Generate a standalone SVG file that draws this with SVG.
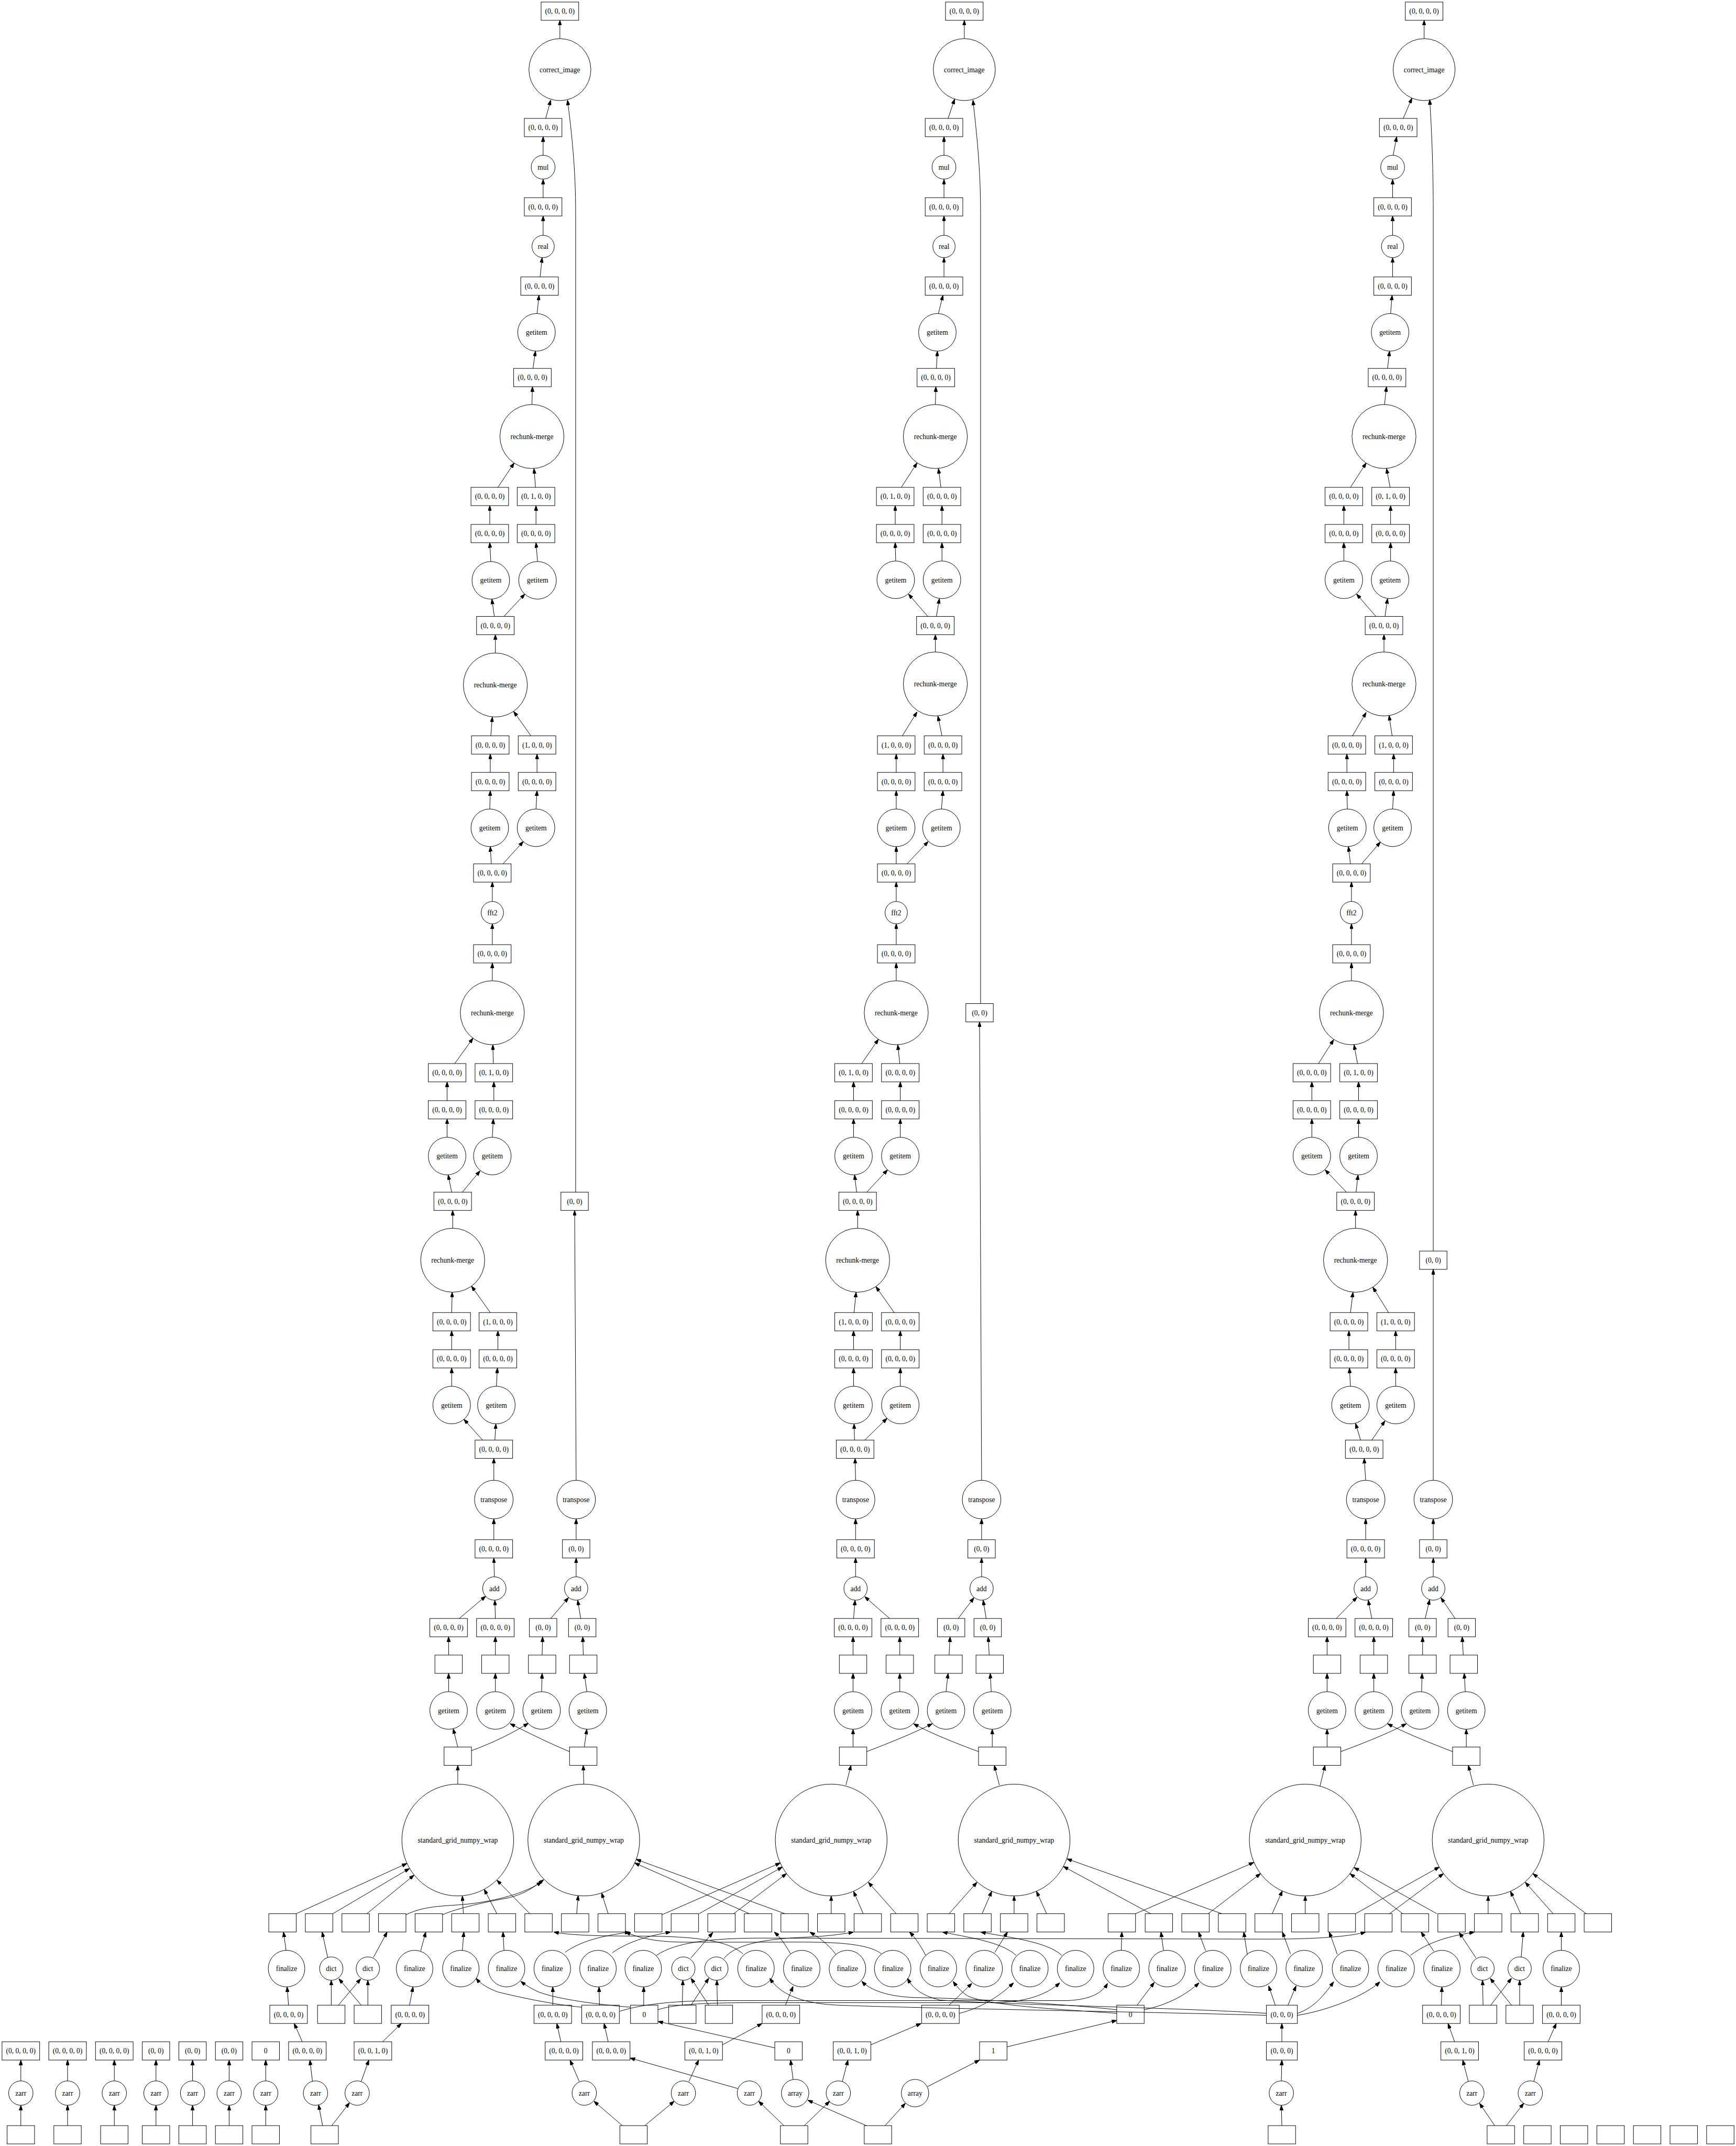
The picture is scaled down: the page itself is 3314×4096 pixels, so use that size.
<svg xmlns="http://www.w3.org/2000/svg" width="3314" height="4096" viewBox="0 0 3314 4096">
<style>
.n rect,.n circle{fill:none;stroke:#000;stroke-width:1}
text{font-family:"Liberation Serif","Times New Roman",serif;font-size:14px;text-anchor:middle;fill:#000}
#edges path{fill:none;stroke:#000;stroke-width:1;marker-end:url(#a)}
</style>
<defs><marker id="a" markerWidth="10" markerHeight="7" refX="10" refY="3.5" orient="auto" markerUnits="userSpaceOnUse"><path d="M0,0 L10,3.5 L0,7 z" fill="#000" stroke="#000"/></marker></defs>
<rect width="3314" height="4096" fill="#fff"/>
<g transform="scale(0.9699)">
<g id="edges">
<!-- column 1 -->
<path d="M901,3438 L892,3402"/><path d="M928,3445 C970,3430 1010,3410 1040,3391"/><path d="M1121,3447 C1080,3430 1040,3410 1004,3392"/><path d="M1150,3438 L1155,3403"/>
<path d="M883,3329 L883,3293"/><path d="M975,3329 L975,3293"/><path d="M1066,3329 L1067,3293"/><path d="M1155,3329 L1150,3293"/>
<path d="M883,3257 L883,3221"/><path d="M975,3257 L975,3221"/><path d="M1067,3257 L1068,3221"/><path d="M1148,3257 L1147,3221"/>
<path d="M904,3185 L956,3141"/><path d="M975,3185 L974,3149"/><path d="M1084,3185 L1119,3144"/><path d="M1143,3185 L1137,3149"/>
<path d="M973,3103 L972,3066"/><path d="M972,3030 L972,2989"/><path d="M972,2913 L972,2870"/>
<path d="M950,2834 L913,2793"/><path d="M974,2834 L976,2802"/>
<path d="M889,2728 L889,2692"/><path d="M977,2728 L979,2692"/><path d="M889,2656 L889,2619"/><path d="M980,2656 L980,2619"/>
<path d="M889,2583 L890,2543"/><path d="M965,2583 L928,2531"/><path d="M891,2417 L891,2382"/>
<path d="M889,2346 L882,2312"/><path d="M910,2346 L945,2304"/>
<path d="M880,2238 L880,2202"/><path d="M969,2238 L971,2202"/><path d="M880,2166 L880,2129"/><path d="M972,2166 L972,2129"/>
<path d="M895,2093 L931,2043"/><path d="M971,2093 L970,2056"/>
<path d="M969,1930 L969,1895"/><path d="M969,1859 L969,1818"/><path d="M969,1774 L969,1736"/>
<path d="M967,1700 L965,1666"/><path d="M990,1700 L1030,1656"/>
<path d="M964,1592 L965,1556"/><path d="M1055,1592 L1057,1556"/><path d="M965,1520 L965,1484"/><path d="M1057,1520 L1057,1484"/>
<path d="M966,1448 L969,1411"/><path d="M1045,1448 L1011,1400"/><path d="M975,1285 L975,1249"/>
<path d="M973,1213 L968,1179"/><path d="M992,1213 L1033,1169"/>
<path d="M966,1105 L964,1068"/><path d="M1058,1105 L1055,1068"/><path d="M964,1032 L964,995"/><path d="M1055,1032 L1055,995"/>
<path d="M980,959 L1012,911"/><path d="M1054,959 L1051,922"/>
<path d="M1047,796 L1048,761"/><path d="M1049,725 L1054,691"/><path d="M1057,617 L1061,581"/><path d="M1063,545 L1067,507"/>
<path d="M1069,463 L1069,425"/><path d="M1069,389 L1069,353"/><path d="M1069,306 L1069,269"/><path d="M1074,233 L1084,197"/><path d="M1102,76 L1102,40"/>
<path d="M1134,3103 L1134,3066"/><path d="M1134,3030 L1134,2989"/><path d="M1134,2913 L1131,2382"/>
<path d="M1133,2346 L1133,420 C1133,330 1125,260 1117,197"/>
<!-- column 2 -->
<path d="M1679,3438 L1679,3403"/><path d="M1706,3447 C1750,3430 1800,3410 1835,3392"/><path d="M1926,3447 C1880,3430 1830,3410 1798,3392"/><path d="M1953,3438 L1953,3403"/>
<path d="M1679,3329 L1679,3293"/><path d="M1771,3329 L1771,3293"/><path d="M1862,3329 L1866,3293"/><path d="M1951,3329 L1949,3293"/>
<path d="M1679,3257 L1679,3221"/><path d="M1771,3257 L1771,3221"/><path d="M1868,3257 L1870,3221"/><path d="M1947,3257 L1945,3221"/>
<path d="M1680,3185 L1683,3149"/><path d="M1751,3185 L1702,3142"/><path d="M1886,3185 L1917,3144"/><path d="M1941,3185 L1935,3149"/>
<path d="M1684,3103 L1684,3066"/><path d="M1684,3030 L1684,2989"/><path d="M1684,2913 L1683,2870"/>
<path d="M1682,2834 L1681,2802"/><path d="M1702,2834 L1746,2791"/>
<path d="M1680,2728 L1680,2692"/><path d="M1772,2728 L1772,2692"/><path d="M1680,2656 L1680,2619"/><path d="M1772,2656 L1772,2619"/>
<path d="M1681,2583 L1685,2543"/><path d="M1760,2583 L1724,2532"/><path d="M1688,2417 L1688,2382"/>
<path d="M1686,2346 L1682,2312"/><path d="M1706,2346 L1747,2302"/>
<path d="M1680,2238 L1680,2202"/><path d="M1772,2238 L1772,2202"/><path d="M1680,2166 L1680,2129"/><path d="M1772,2166 L1772,2129"/>
<path d="M1696,2093 L1729,2045"/><path d="M1771,2093 L1767,2056"/>
<path d="M1764,1930 L1764,1895"/><path d="M1764,1859 L1764,1818"/><path d="M1764,1774 L1764,1736"/>
<path d="M1764,1700 L1764,1666"/><path d="M1785,1700 L1827,1656"/>
<path d="M1764,1592 L1764,1556"/><path d="M1853,1592 L1856,1556"/><path d="M1764,1520 L1764,1484"/><path d="M1856,1520 L1856,1484"/>
<path d="M1776,1448 L1805,1401"/><path d="M1854,1448 L1846,1409"/><path d="M1841,1283 L1841,1249"/>
<path d="M1826,1213 L1788,1169"/><path d="M1843,1213 L1849,1178"/>
<path d="M1763,1104 L1762,1068"/><path d="M1854,1104 L1854,1068"/><path d="M1762,1032 L1762,995"/><path d="M1854,1032 L1854,995"/>
<path d="M1774,959 L1805,911"/><path d="M1852,959 L1847,922"/>
<path d="M1841,796 L1842,761"/><path d="M1843,725 L1845,691"/><path d="M1847,617 L1856,581"/><path d="M1858,545 L1858,507"/>
<path d="M1858,463 L1858,425"/><path d="M1858,389 L1858,353"/><path d="M1858,306 L1858,269"/><path d="M1866,233 L1879,195"/><path d="M1898,76 L1898,40"/>
<path d="M1932,3103 L1932,3066"/><path d="M1932,3030 L1932,2989"/><path d="M1932,2913 L1928,2011"/>
<path d="M1930,1975 L1930,420 C1930,330 1922,260 1915,197"/>
<!-- column 3 -->
<path d="M2612,3438 L2612,3403"/><path d="M2639,3447 C2685,3430 2735,3410 2768,3392"/><path d="M2859,3447 C2815,3430 2765,3410 2731,3392"/><path d="M2886,3438 L2886,3403"/>
<path d="M2612,3329 L2612,3293"/><path d="M2704,3329 L2704,3293"/><path d="M2798,3329 L2799,3293"/><path d="M2884,3329 L2882,3293"/>
<path d="M2612,3257 L2612,3221"/><path d="M2704,3257 L2704,3221"/><path d="M2800,3257 L2800,3221"/><path d="M2880,3257 L2878,3221"/>
<path d="M2630,3185 L2671,3143"/><path d="M2700,3185 L2693,3149"/><path d="M2805,3185 L2814,3148"/><path d="M2864,3185 L2836,3144"/>
<path d="M2688,3103 L2688,3066"/><path d="M2688,3030 L2688,2989"/><path d="M2688,2913 L2685,2870"/>
<path d="M2678,2834 L2668,2801"/><path d="M2700,2834 L2726,2796"/>
<path d="M2658,2728 L2656,2692"/><path d="M2747,2728 L2747,2692"/><path d="M2655,2656 L2655,2619"/><path d="M2747,2656 L2747,2619"/>
<path d="M2658,2583 L2663,2543"/><path d="M2733,2583 L2702,2533"/><path d="M2668,2417 L2668,2382"/>
<path d="M2650,2346 L2608,2302"/><path d="M2669,2346 L2673,2312"/>
<path d="M2582,2238 L2582,2202"/><path d="M2674,2238 L2674,2202"/><path d="M2582,2166 L2582,2129"/><path d="M2674,2166 L2674,2129"/>
<path d="M2595,2093 L2625,2046"/><path d="M2672,2093 L2665,2056"/>
<path d="M2660,1930 L2660,1895"/><path d="M2660,1859 L2660,1818"/><path d="M2660,1774 L2660,1736"/>
<path d="M2658,1700 L2654,1666"/><path d="M2680,1700 L2717,1657"/>
<path d="M2652,1592 L2651,1556"/><path d="M2741,1592 L2743,1556"/><path d="M2651,1520 L2651,1484"/><path d="M2743,1520 L2743,1484"/>
<path d="M2662,1448 L2689,1402"/><path d="M2740,1448 L2734,1408"/><path d="M2724,1283 L2724,1249"/>
<path d="M2708,1213 L2670,1169"/><path d="M2726,1213 L2731,1178"/>
<path d="M2645,1104 L2645,1068"/><path d="M2737,1104 L2737,1068"/><path d="M2645,1032 L2645,995"/><path d="M2737,1032 L2737,995"/>
<path d="M2658,959 L2689,911"/><path d="M2736,959 L2729,922"/>
<path d="M2725,796 L2729,761"/><path d="M2731,725 L2735,691"/><path d="M2737,617 L2740,581"/><path d="M2741,545 L2741,507"/>
<path d="M2741,463 L2741,425"/><path d="M2741,389 L2741,353"/><path d="M2742,306 L2749,269"/><path d="M2762,233 L2779,193"/><path d="M2803,76 L2803,40"/>
<path d="M2821,3103 L2821,3066"/><path d="M2821,3030 L2821,2989"/><path d="M2821,2913 L2821,2498"/>
<path d="M2821,2462 L2821,420 C2821,330 2818,260 2814,196"/>
<!-- sgnw to columns -->
<path d="M901,3511 L901,3474"/><path d="M1149,3511 L1148,3474"/><path d="M1665,3513 L1675,3474"/><path d="M1967,3513 L1957,3474"/><path d="M2598,3515 L2608,3474"/><path d="M2900,3513 L2890,3474"/>
<!-- row boxes to sgnw -->
<path d="M583,3766 L801,3667"/><path d="M655,3766 L806,3677"/><path d="M722,3766 L815,3690"/><path d="M912,3766 L910,3731"/><path d="M978,3766 L953,3718"/><path d="M1043,3766 L978,3700"/>
<path d="M799,3768 C840,3748 880,3752 930,3746 C990,3738 1040,3722 1066,3703"/><path d="M871,3768 C900,3755 960,3742 1000,3735 C1030,3728 1050,3715 1070,3699"/>
<path d="M1135,3766 L1138,3730"/><path d="M1197,3766 L1184,3725"/><path d="M1475,3766 L1249,3666"/><path d="M1545,3766 L1252,3659"/>
<path d="M1303,3768 L1536,3666"/><path d="M1376,3766 L1540,3674"/><path d="M1444,3766 L1548,3687"/><path d="M1636,3766 L1636,3731"/><path d="M1699,3766 L1680,3722"/><path d="M1764,3766 L1709,3704"/>
<path d="M1868,3766 L1923,3704"/><path d="M1933,3766 L1952,3722"/><path d="M1996,3766 L1996,3731"/><path d="M2060,3766 L2040,3722"/><path d="M2265,3766 L2093,3673"/><path d="M2405,3766 L2100,3658"/>
<path d="M2235,3766 L2468,3665"/><path d="M2378,3766 L2481,3687"/><path d="M2504,3766 L2524,3721"/><path d="M2569,3766 L2569,3731"/><path d="M2761,3766 L2657,3687"/><path d="M2828,3766 L2665,3675"/>
<path d="M2668,3766 L2833,3674"/><path d="M2735,3766 L2841,3687"/><path d="M2929,3766 L2929,3731"/><path d="M2993,3766 L2973,3722"/><path d="M3057,3766 L3002,3704"/><path d="M3122,3766 L3017,3687"/>
<!-- finalize/dict to row boxes -->
<path d="M563,3838 L558,3802"/><path d="M645,3852 L634,3802"/><path d="M735,3852 L762,3802"/><path d="M828,3839 L838,3802"/>
<path d="M910,3838 L913,3802"/><path d="M992,3838 L990,3802"/>
<path d="M1112,3842 C1150,3815 1200,3808 1240,3802"/><path d="M1205,3843 C1240,3818 1285,3808 1320,3802"/>
<path d="M1292,3848 C1330,3822 1400,3814 1500,3814 L2500,3816 C2600,3816 2660,3810 2688,3802"/>
<path d="M1360,3853 L1403,3803"/><path d="M1425,3854 C1450,3822 1520,3815 1590,3812 C1630,3810 1660,3806 1680,3802"/>
<path d="M1462,3845 C1430,3815 1350,3810 1250,3810 C1170,3810 1120,3808 1090,3802"/>
<path d="M1556,3845 C1545,3825 1535,3812 1524,3802"/><path d="M1645,3846 C1630,3825 1610,3812 1594,3802"/>
<path d="M1735,3845 C1700,3818 1600,3822 1500,3822 L1350,3822 C1280,3822 1250,3810 1231,3802"/>
<path d="M1822,3848 C1810,3825 1800,3812 1790,3802"/><path d="M1958,3842 L1983,3802"/>
<path d="M2000,3848 C1970,3820 1900,3812 1855,3802"/><path d="M2090,3848 C2060,3820 1980,3812 1930,3802"/>
<path d="M2207,3838 L2208,3802"/><path d="M2290,3838 L2285,3802"/><path d="M2373,3839 L2359,3802"/><path d="M2455,3847 L2448,3802"/><path d="M2540,3845 L2524,3802"/>
<path d="M2632,3846 C2625,3825 2620,3812 2616,3802"/><path d="M2776,3848 C2820,3815 2870,3808 2902,3802"/><path d="M2822,3840 L2797,3802"/><path d="M2905,3853 L2872,3803"/><path d="M2994,3852 L2998,3802"/><path d="M3073,3838 L3073,3802"/>
<!-- row 3 to finalize/dict -->
<path d="M568,3946 L565,3910"/><path d="M652,3946 L652,3897"/><path d="M666,3946 L710,3894"/><path d="M724,3946 L724,3897"/><path d="M711,3946 L667,3894"/><path d="M806,3946 L813,3910"/>
<path d="M1088,3946 L1088,3910"/><path d="M1180,3946 L1179,3910"/>
<path d="M1145,3950 C1090,3945 1020,3930 980,3920 C960,3913 945,3903 937,3893"/>
<path d="M1267,3946 L1267,3910"/>
<path d="M1241,3950 C1180,3945 1100,3935 1060,3920 C1045,3913 1035,3907 1025,3899"/>
<path d="M1220,3958 C1260,3945 1320,3938 1400,3937 L2100,3937 C2150,3935 2170,3920 2180,3903"/>
<path d="M1295,3955 C1330,3943 1400,3941 1500,3941 L1950,3941 C2020,3941 2060,3925 2086,3902"/>
<path d="M1343,3946 L1344,3897"/><path d="M1360,3946 L1395,3893"/><path d="M1412,3946 L1411,3897"/><path d="M1395,3946 L1360,3893"/>
<path d="M1546,3946 L1561,3909"/><path d="M1868,3946 L1913,3903"/>
<path d="M1888,3962 C1930,3952 1965,3930 1995,3902"/>
<path d="M2238,3946 L2272,3901"/><path d="M2252,3955 C2300,3945 2335,3925 2360,3902"/>
<path d="M2198,3962 C2100,3955 1950,3948 1905,3928 C1892,3920 1882,3908 1876,3899"/>
<path d="M2198,3955 C2100,3944 1900,3932 1800,3931 C1750,3929 1715,3918 1696,3899"/>
<path d="M2510,3946 L2497,3908"/><path d="M2535,3946 L2551,3908"/>
<path d="M2493,3962 C2300,3950 2000,3946 1850,3936 C1810,3926 1795,3910 1786,3893"/>
<path d="M2493,3966 C2300,3960 1800,3952 1650,3946 C1560,3942 1530,3915 1515,3893"/>
<path d="M2554,3962 C2590,3950 2610,3920 2625,3900"/><path d="M2554,3966 C2620,3955 2690,3925 2716,3900"/>
<path d="M2837,3946 L2838,3910"/><path d="M2919,3946 L2918,3897"/><path d="M2934,3946 L2975,3893"/><path d="M2991,3946 L2991,3897"/><path d="M2975,3946 L2933,3893"/><path d="M3073,3946 L3073,3910"/>
<!-- row 4 to row 3 -->
<path d="M595,4018 L579,3982"/><path d="M753,4018 L790,3982"/><path d="M1104,4018 L1096,3982"/><path d="M1197,4018 L1189,3982"/>
<path d="M1422,4024 L1500,3982"/><path d="M1525,4030 L1295,3978"/><path d="M1714,4024 L1813,3982"/><path d="M1982,4028 L2198,3976"/>
<path d="M2523,4018 L2523,3982"/><path d="M2863,4018 L2850,3982"/><path d="M3047,4018 L3063,3982"/>
<!-- zarr/array to row 4 -->
<path d="M41,4095 L41,4054"/><path d="M133,4095 L133,4054"/><path d="M225,4095 L225,4054"/><path d="M307,4095 L307,4054"/><path d="M379,4095 L379,4054"/><path d="M451,4095 L451,4054"/><path d="M523,4095 L523,4054"/>
<path d="M615,4096 L610,4054"/><path d="M711,4096 L726,4054"/><path d="M1140,4096 L1122,4054"/><path d="M1356,4096 L1375,4054"/><path d="M1452,4110 L1240,4050"/>
<path d="M1561,4092 L1556,4054"/><path d="M1658,4096 L1669,4054"/><path d="M1826,4106 L1928,4054"/><path d="M2522,4095 L2523,4054"/><path d="M2890,4096 L2879,4054"/><path d="M3019,4096 L3030,4054"/>
<!-- bottom boxes to zarr/array -->
<path d="M41,4183 L41,4143"/><path d="M133,4183 L133,4143"/><path d="M225,4183 L225,4143"/><path d="M307,4183 L307,4143"/><path d="M379,4183 L379,4143"/><path d="M451,4183 L451,4143"/><path d="M523,4183 L523,4143"/>
<path d="M635,4183 L627,4142"/><path d="M653,4183 L688,4138"/><path d="M1225,4183 L1169,4135"/><path d="M1269,4183 L1327,4135"/>
<path d="M1543,4183 L1493,4135"/><path d="M1583,4183 L1633,4135"/><path d="M1705,4183 L1590,4133"/><path d="M1742,4183 L1782,4139"/>
<path d="M2523,4183 L2522,4143"/><path d="M2942,4183 L2912,4139"/><path d="M2965,4183 L2999,4139"/>
</g>
<g id="nodes" class="n">
<!-- column 1 -->
<g id="c1_out"><rect x="1065" y="4" width="74" height="36"/><text x="1102" y="27">(0, 0, 0, 0)</text></g>
<g id="c1_ci"><circle cx="1102" cy="137" r="61"/><text x="1102" y="142">correct_image</text></g>
<g id="c1_b1"><rect x="1032" y="233" width="74" height="36"/><text x="1069" y="256">(0, 0, 0, 0)</text></g>
<g id="c1_mul"><circle cx="1069" cy="329" r="23.5"/><text x="1069" y="334">mul</text></g>
<g id="c1_b2"><rect x="1032" y="389" width="74" height="36"/><text x="1069" y="412">(0, 0, 0, 0)</text></g>
<g id="c1_real"><circle cx="1069" cy="485" r="22"/><text x="1069" y="490">real</text></g>
<g id="c1_b3"><rect x="1025" y="545" width="74" height="36"/><text x="1062" y="568">(0, 0, 0, 0)</text></g>
<g id="c1_g1"><circle cx="1056" cy="654" r="37"/><text x="1056" y="659">getitem</text></g>
<g id="c1_b4"><rect x="1011" y="725" width="74" height="36"/><text x="1048" y="748">(0, 0, 0, 0)</text></g>
<g id="c1_rm1"><circle cx="1047" cy="859" r="63"/><text x="1047" y="864">rechunk-merge</text></g>
<g id="c1_b5a"><rect x="927" y="959" width="74" height="36"/><text x="964" y="982">(0, 0, 0, 0)</text></g>
<g id="c1_b5b"><rect x="1018" y="959" width="74" height="36"/><text x="1055" y="982">(0, 1, 0, 0)</text></g>
<g id="c1_b6a"><rect x="927" y="1032" width="74" height="36"/><text x="964" y="1055">(0, 0, 0, 0)</text></g>
<g id="c1_b6b"><rect x="1018" y="1032" width="74" height="36"/><text x="1055" y="1055">(0, 0, 0, 0)</text></g>
<g id="c1_g2a"><circle cx="966" cy="1142" r="37"/><text x="966" y="1147">getitem</text></g>
<g id="c1_g2b"><circle cx="1058" cy="1142" r="37"/><text x="1058" y="1147">getitem</text></g>
<g id="c1_b7"><rect x="938" y="1213" width="74" height="36"/><text x="975" y="1236">(0, 0, 0, 0)</text></g>
<g id="c1_rm2"><circle cx="975" cy="1348" r="63"/><text x="975" y="1353">rechunk-merge</text></g>
<g id="c1_b8a"><rect x="928" y="1448" width="74" height="36"/><text x="965" y="1471">(0, 0, 0, 0)</text></g>
<g id="c1_b8b"><rect x="1020" y="1448" width="74" height="36"/><text x="1057" y="1471">(1, 0, 0, 0)</text></g>
<g id="c1_b9a"><rect x="928" y="1520" width="74" height="36"/><text x="965" y="1543">(0, 0, 0, 0)</text></g>
<g id="c1_b9b"><rect x="1020" y="1520" width="74" height="36"/><text x="1057" y="1543">(0, 0, 0, 0)</text></g>
<g id="c1_g3a"><circle cx="964" cy="1629" r="37"/><text x="964" y="1634">getitem</text></g>
<g id="c1_g3b"><circle cx="1055" cy="1629" r="37"/><text x="1055" y="1634">getitem</text></g>
<g id="c1_b10"><rect x="932" y="1700" width="74" height="36"/><text x="969" y="1723">(0, 0, 0, 0)</text></g>
<g id="c1_fft"><circle cx="969" cy="1796" r="22"/><text x="969" y="1801">fft2</text></g>
<g id="c1_b11"><rect x="932" y="1859" width="74" height="36"/><text x="969" y="1882">(0, 0, 0, 0)</text></g>
<g id="c1_rm3"><circle cx="969" cy="1993" r="63"/><text x="969" y="1998">rechunk-merge</text></g>
<g id="c1_b12a"><rect x="843" y="2093" width="74" height="36"/><text x="880" y="2116">(0, 0, 0, 0)</text></g>
<g id="c1_b12b"><rect x="935" y="2093" width="74" height="36"/><text x="972" y="2116">(0, 1, 0, 0)</text></g>
<g id="c1_b13a"><rect x="843" y="2166" width="74" height="36"/><text x="880" y="2189">(0, 0, 0, 0)</text></g>
<g id="c1_b13b"><rect x="935" y="2166" width="74" height="36"/><text x="972" y="2189">(0, 0, 0, 0)</text></g>
<g id="c1_g4a"><circle cx="880" cy="2275" r="37"/><text x="880" y="2280">getitem</text></g>
<g id="c1_g4b"><circle cx="969" cy="2275" r="37"/><text x="969" y="2280">getitem</text></g>
<g id="c1_b14"><rect x="854" y="2346" width="74" height="36"/><text x="891" y="2369">(0, 0, 0, 0)</text></g>
<g id="c1_rm4"><circle cx="891" cy="2480" r="63"/><text x="891" y="2485">rechunk-merge</text></g>
<g id="c1_b15a"><rect x="852" y="2583" width="74" height="36"/><text x="889" y="2606">(0, 0, 0, 0)</text></g>
<g id="c1_b15b"><rect x="943" y="2583" width="74" height="36"/><text x="980" y="2606">(1, 0, 0, 0)</text></g>
<g id="c1_b16a"><rect x="852" y="2656" width="74" height="36"/><text x="889" y="2679">(0, 0, 0, 0)</text></g>
<g id="c1_b16b"><rect x="943" y="2656" width="74" height="36"/><text x="980" y="2679">(0, 0, 0, 0)</text></g>
<g id="c1_g5a"><circle cx="889" cy="2765" r="37"/><text x="889" y="2770">getitem</text></g>
<g id="c1_g5b"><circle cx="977" cy="2765" r="37"/><text x="977" y="2770">getitem</text></g>
<g id="c1_b17"><rect x="935" y="2834" width="74" height="36"/><text x="972" y="2857">(0, 0, 0, 0)</text></g>
<g id="c1_tr"><circle cx="972" cy="2951" r="38"/><text x="972" y="2956">transpose</text></g>
<g id="c1_b18"><rect x="935" y="3030" width="74" height="36"/><text x="972" y="3053">(0, 0, 0, 0)</text></g>
<g id="c1_add"><circle cx="973" cy="3126" r="23"/><text x="973" y="3131">add</text></g>
<g id="c1_b19a"><rect x="846" y="3185" width="74" height="36"/><text x="883" y="3208">(0, 0, 0, 0)</text></g>
<g id="c1_b19b"><rect x="938" y="3185" width="74" height="36"/><text x="975" y="3208">(0, 0, 0, 0)</text></g>
<g id="c1_e1a"><rect x="856" y="3257" width="54" height="36"/></g>
<g id="c1_e1b"><rect x="948" y="3257" width="54" height="36"/></g>
<g id="c1_ga"><circle cx="883" cy="3366" r="37"/><text x="883" y="3371">getitem</text></g>
<g id="c1_gb"><circle cx="975" cy="3366" r="37"/><text x="975" y="3371">getitem</text></g>
<g id="c1_gc"><circle cx="1066" cy="3366" r="37"/><text x="1066" y="3371">getitem</text></g>
<g id="c1_gd"><circle cx="1157" cy="3366" r="37"/><text x="1157" y="3371">getitem</text></g>
<g id="c1_e2a"><rect x="874" y="3438" width="54" height="36"/></g>
<g id="c1_e2b"><rect x="1121" y="3438" width="54" height="36"/></g>
<g id="c1_b20a"><rect x="1042" y="3185" width="54" height="36"/><text x="1069" y="3208">(0, 0)</text></g>
<g id="c1_b20b"><rect x="1119" y="3185" width="54" height="36"/><text x="1146" y="3208">(0, 0)</text></g>
<g id="c1_e1c"><rect x="1040" y="3257" width="54" height="36"/></g>
<g id="c1_e1d"><rect x="1121" y="3257" width="54" height="36"/></g>
<g id="c1_add2"><circle cx="1134" cy="3126" r="23"/><text x="1134" y="3131">add</text></g>
<g id="c1_b21"><rect x="1107" y="3030" width="54" height="36"/><text x="1134" y="3053">(0, 0)</text></g>
<g id="c1_tr2"><circle cx="1134" cy="2951" r="38"/><text x="1134" y="2956">transpose</text></g>
<g id="c1_b22"><rect x="1104" y="2346" width="54" height="36"/><text x="1131" y="2369">(0, 0)</text></g>
<!-- column 2 -->
<g id="c2_out"><rect x="1861" y="4" width="74" height="36"/><text x="1898" y="27">(0, 0, 0, 0)</text></g>
<g id="c2_ci"><circle cx="1898" cy="137" r="61"/><text x="1898" y="142">correct_image</text></g>
<g id="c2_b1"><rect x="1821" y="233" width="74" height="36"/><text x="1858" y="256">(0, 0, 0, 0)</text></g>
<g id="c2_mul"><circle cx="1858" cy="329" r="23.5"/><text x="1858" y="334">mul</text></g>
<g id="c2_b2"><rect x="1821" y="389" width="74" height="36"/><text x="1858" y="412">(0, 0, 0, 0)</text></g>
<g id="c2_real"><circle cx="1858" cy="485" r="22"/><text x="1858" y="490">real</text></g>
<g id="c2_b3"><rect x="1821" y="545" width="74" height="36"/><text x="1858" y="568">(0, 0, 0, 0)</text></g>
<g id="c2_g1"><circle cx="1845" cy="654" r="37"/><text x="1845" y="659">getitem</text></g>
<g id="c2_b4"><rect x="1805" y="725" width="74" height="36"/><text x="1842" y="748">(0, 0, 0, 0)</text></g>
<g id="c2_rm1"><circle cx="1841" cy="859" r="63"/><text x="1841" y="864">rechunk-merge</text></g>
<g id="c2_b5a"><rect x="1725" y="959" width="74" height="36"/><text x="1762" y="982">(0, 1, 0, 0)</text></g>
<g id="c2_b5b"><rect x="1817" y="959" width="74" height="36"/><text x="1854" y="982">(0, 0, 0, 0)</text></g>
<g id="c2_b6a"><rect x="1725" y="1032" width="74" height="36"/><text x="1762" y="1055">(0, 0, 0, 0)</text></g>
<g id="c2_b6b"><rect x="1817" y="1032" width="74" height="36"/><text x="1854" y="1055">(0, 0, 0, 0)</text></g>
<g id="c2_g2a"><circle cx="1763" cy="1141" r="37"/><text x="1763" y="1146">getitem</text></g>
<g id="c2_g2b"><circle cx="1854" cy="1141" r="37"/><text x="1854" y="1146">getitem</text></g>
<g id="c2_b7"><rect x="1804" y="1213" width="74" height="36"/><text x="1841" y="1236">(0, 0, 0, 0)</text></g>
<g id="c2_rm2"><circle cx="1841" cy="1346" r="63"/><text x="1841" y="1351">rechunk-merge</text></g>
<g id="c2_b8a"><rect x="1727" y="1448" width="74" height="36"/><text x="1764" y="1471">(1, 0, 0, 0)</text></g>
<g id="c2_b8b"><rect x="1819" y="1448" width="74" height="36"/><text x="1856" y="1471">(0, 0, 0, 0)</text></g>
<g id="c2_b9a"><rect x="1727" y="1520" width="74" height="36"/><text x="1764" y="1543">(0, 0, 0, 0)</text></g>
<g id="c2_b9b"><rect x="1819" y="1520" width="74" height="36"/><text x="1856" y="1543">(0, 0, 0, 0)</text></g>
<g id="c2_g3a"><circle cx="1764" cy="1629" r="37"/><text x="1764" y="1634">getitem</text></g>
<g id="c2_g3b"><circle cx="1853" cy="1629" r="37"/><text x="1853" y="1634">getitem</text></g>
<g id="c2_b10"><rect x="1727" y="1700" width="74" height="36"/><text x="1764" y="1723">(0, 0, 0, 0)</text></g>
<g id="c2_fft"><circle cx="1764" cy="1796" r="22"/><text x="1764" y="1801">fft2</text></g>
<g id="c2_b11"><rect x="1727" y="1859" width="74" height="36"/><text x="1764" y="1882">(0, 0, 0, 0)</text></g>
<g id="c2_rm3"><circle cx="1764" cy="1993" r="63"/><text x="1764" y="1998">rechunk-merge</text></g>
<g id="c2_b12a"><rect x="1643" y="2093" width="74" height="36"/><text x="1680" y="2116">(0, 1, 0, 0)</text></g>
<g id="c2_b12b"><rect x="1735" y="2093" width="74" height="36"/><text x="1772" y="2116">(0, 0, 0, 0)</text></g>
<g id="c2_b13a"><rect x="1643" y="2166" width="74" height="36"/><text x="1680" y="2189">(0, 0, 0, 0)</text></g>
<g id="c2_b13b"><rect x="1735" y="2166" width="74" height="36"/><text x="1772" y="2189">(0, 0, 0, 0)</text></g>
<g id="c2_g4a"><circle cx="1680" cy="2275" r="37"/><text x="1680" y="2280">getitem</text></g>
<g id="c2_g4b"><circle cx="1772" cy="2275" r="37"/><text x="1772" y="2280">getitem</text></g>
<g id="c2_b14"><rect x="1651" y="2346" width="74" height="36"/><text x="1688" y="2369">(0, 0, 0, 0)</text></g>
<g id="c2_rm4"><circle cx="1688" cy="2480" r="63"/><text x="1688" y="2485">rechunk-merge</text></g>
<g id="c2_b15a"><rect x="1643" y="2583" width="74" height="36"/><text x="1680" y="2606">(1, 0, 0, 0)</text></g>
<g id="c2_b15b"><rect x="1735" y="2583" width="74" height="36"/><text x="1772" y="2606">(0, 0, 0, 0)</text></g>
<g id="c2_b16a"><rect x="1643" y="2656" width="74" height="36"/><text x="1680" y="2679">(0, 0, 0, 0)</text></g>
<g id="c2_b16b"><rect x="1735" y="2656" width="74" height="36"/><text x="1772" y="2679">(0, 0, 0, 0)</text></g>
<g id="c2_g5a"><circle cx="1680" cy="2765" r="37"/><text x="1680" y="2770">getitem</text></g>
<g id="c2_g5b"><circle cx="1772" cy="2765" r="37"/><text x="1772" y="2770">getitem</text></g>
<g id="c2_b17"><rect x="1646" y="2834" width="74" height="36"/><text x="1683" y="2857">(0, 0, 0, 0)</text></g>
<g id="c2_tr"><circle cx="1684" cy="2951" r="38"/><text x="1684" y="2956">transpose</text></g>
<g id="c2_b18"><rect x="1647" y="3030" width="74" height="36"/><text x="1684" y="3053">(0, 0, 0, 0)</text></g>
<g id="c2_add"><circle cx="1684" cy="3126" r="23"/><text x="1684" y="3131">add</text></g>
<g id="c2_b19a"><rect x="1642" y="3185" width="74" height="36"/><text x="1679" y="3208">(0, 0, 0, 0)</text></g>
<g id="c2_b19b"><rect x="1734" y="3185" width="74" height="36"/><text x="1771" y="3208">(0, 0, 0, 0)</text></g>
<g id="c2_e1a"><rect x="1652" y="3257" width="54" height="36"/></g>
<g id="c2_e1b"><rect x="1744" y="3257" width="54" height="36"/></g>
<g id="c2_ga"><circle cx="1679" cy="3366" r="37"/><text x="1679" y="3371">getitem</text></g>
<g id="c2_gb"><circle cx="1771" cy="3366" r="37"/><text x="1771" y="3371">getitem</text></g>
<g id="c2_gc"><circle cx="1862" cy="3366" r="37"/><text x="1862" y="3371">getitem</text></g>
<g id="c2_gd"><circle cx="1953" cy="3366" r="37"/><text x="1953" y="3371">getitem</text></g>
<g id="c2_e2a"><rect x="1652" y="3438" width="54" height="36"/></g>
<g id="c2_e2b"><rect x="1926" y="3438" width="54" height="36"/></g>
<g id="c2_b20a"><rect x="1845" y="3185" width="54" height="36"/><text x="1872" y="3208">(0, 0)</text></g>
<g id="c2_b20b"><rect x="1917" y="3185" width="54" height="36"/><text x="1944" y="3208">(0, 0)</text></g>
<g id="c2_e1c"><rect x="1840" y="3257" width="54" height="36"/></g>
<g id="c2_e1d"><rect x="1921" y="3257" width="54" height="36"/></g>
<g id="c2_add2"><circle cx="1932" cy="3126" r="23"/><text x="1932" y="3131">add</text></g>
<g id="c2_b21"><rect x="1905" y="3030" width="54" height="36"/><text x="1932" y="3053">(0, 0)</text></g>
<g id="c2_tr2"><circle cx="1932" cy="2951" r="38"/><text x="1932" y="2956">transpose</text></g>
<g id="c2_b22"><rect x="1901" y="1975" width="54" height="36"/><text x="1928" y="1998">(0, 0)</text></g>
<!-- column 3 -->
<g id="c3_out"><rect x="2766" y="4" width="74" height="36"/><text x="2803" y="27">(0, 0, 0, 0)</text></g>
<g id="c3_ci"><circle cx="2803" cy="137" r="61"/><text x="2803" y="142">correct_image</text></g>
<g id="c3_b1"><rect x="2715" y="233" width="74" height="36"/><text x="2752" y="256">(0, 0, 0, 0)</text></g>
<g id="c3_mul"><circle cx="2741" cy="329" r="23.5"/><text x="2741" y="334">mul</text></g>
<g id="c3_b2"><rect x="2704" y="389" width="74" height="36"/><text x="2741" y="412">(0, 0, 0, 0)</text></g>
<g id="c3_real"><circle cx="2741" cy="485" r="22"/><text x="2741" y="490">real</text></g>
<g id="c3_b3"><rect x="2704" y="545" width="74" height="36"/><text x="2741" y="568">(0, 0, 0, 0)</text></g>
<g id="c3_g1"><circle cx="2736" cy="654" r="37"/><text x="2736" y="659">getitem</text></g>
<g id="c3_b4"><rect x="2693" y="725" width="74" height="36"/><text x="2730" y="748">(0, 0, 0, 0)</text></g>
<g id="c3_rm1"><circle cx="2724" cy="859" r="63"/><text x="2724" y="864">rechunk-merge</text></g>
<g id="c3_b5a"><rect x="2608" y="959" width="74" height="36"/><text x="2645" y="982">(0, 0, 0, 0)</text></g>
<g id="c3_b5b"><rect x="2700" y="959" width="74" height="36"/><text x="2737" y="982">(0, 1, 0, 0)</text></g>
<g id="c3_b6a"><rect x="2608" y="1032" width="74" height="36"/><text x="2645" y="1055">(0, 0, 0, 0)</text></g>
<g id="c3_b6b"><rect x="2700" y="1032" width="74" height="36"/><text x="2737" y="1055">(0, 0, 0, 0)</text></g>
<g id="c3_g2a"><circle cx="2645" cy="1141" r="37"/><text x="2645" y="1146">getitem</text></g>
<g id="c3_g2b"><circle cx="2736" cy="1141" r="37"/><text x="2736" y="1146">getitem</text></g>
<g id="c3_b7"><rect x="2687" y="1213" width="74" height="36"/><text x="2724" y="1236">(0, 0, 0, 0)</text></g>
<g id="c3_rm2"><circle cx="2724" cy="1346" r="63"/><text x="2724" y="1351">rechunk-merge</text></g>
<g id="c3_b8a"><rect x="2614" y="1448" width="74" height="36"/><text x="2651" y="1471">(0, 0, 0, 0)</text></g>
<g id="c3_b8b"><rect x="2706" y="1448" width="74" height="36"/><text x="2743" y="1471">(1, 0, 0, 0)</text></g>
<g id="c3_b9a"><rect x="2614" y="1520" width="74" height="36"/><text x="2651" y="1543">(0, 0, 0, 0)</text></g>
<g id="c3_b9b"><rect x="2706" y="1520" width="74" height="36"/><text x="2743" y="1543">(0, 0, 0, 0)</text></g>
<g id="c3_g3a"><circle cx="2652" cy="1629" r="37"/><text x="2652" y="1634">getitem</text></g>
<g id="c3_g3b"><circle cx="2741" cy="1629" r="37"/><text x="2741" y="1634">getitem</text></g>
<g id="c3_b10"><rect x="2623" y="1700" width="74" height="36"/><text x="2660" y="1723">(0, 0, 0, 0)</text></g>
<g id="c3_fft"><circle cx="2660" cy="1796" r="22"/><text x="2660" y="1801">fft2</text></g>
<g id="c3_b11"><rect x="2623" y="1859" width="74" height="36"/><text x="2660" y="1882">(0, 0, 0, 0)</text></g>
<g id="c3_rm3"><circle cx="2660" cy="1993" r="63"/><text x="2660" y="1998">rechunk-merge</text></g>
<g id="c3_b12a"><rect x="2545" y="2093" width="74" height="36"/><text x="2582" y="2116">(0, 0, 0, 0)</text></g>
<g id="c3_b12b"><rect x="2637" y="2093" width="74" height="36"/><text x="2674" y="2116">(0, 1, 0, 0)</text></g>
<g id="c3_b13a"><rect x="2545" y="2166" width="74" height="36"/><text x="2582" y="2189">(0, 0, 0, 0)</text></g>
<g id="c3_b13b"><rect x="2637" y="2166" width="74" height="36"/><text x="2674" y="2189">(0, 0, 0, 0)</text></g>
<g id="c3_g4a"><circle cx="2582" cy="2275" r="37"/><text x="2582" y="2280">getitem</text></g>
<g id="c3_g4b"><circle cx="2674" cy="2275" r="37"/><text x="2674" y="2280">getitem</text></g>
<g id="c3_b14"><rect x="2631" y="2346" width="74" height="36"/><text x="2668" y="2369">(0, 0, 0, 0)</text></g>
<g id="c3_rm4"><circle cx="2668" cy="2480" r="63"/><text x="2668" y="2485">rechunk-merge</text></g>
<g id="c3_b15a"><rect x="2618" y="2583" width="74" height="36"/><text x="2655" y="2606">(0, 0, 0, 0)</text></g>
<g id="c3_b15b"><rect x="2710" y="2583" width="74" height="36"/><text x="2747" y="2606">(1, 0, 0, 0)</text></g>
<g id="c3_b16a"><rect x="2618" y="2656" width="74" height="36"/><text x="2655" y="2679">(0, 0, 0, 0)</text></g>
<g id="c3_b16b"><rect x="2710" y="2656" width="74" height="36"/><text x="2747" y="2679">(0, 0, 0, 0)</text></g>
<g id="c3_g5a"><circle cx="2658" cy="2765" r="37"/><text x="2658" y="2770">getitem</text></g>
<g id="c3_g5b"><circle cx="2747" cy="2765" r="37"/><text x="2747" y="2770">getitem</text></g>
<g id="c3_b17"><rect x="2648" y="2834" width="74" height="36"/><text x="2685" y="2857">(0, 0, 0, 0)</text></g>
<g id="c3_tr"><circle cx="2688" cy="2951" r="38"/><text x="2688" y="2956">transpose</text></g>
<g id="c3_b18"><rect x="2651" y="3030" width="74" height="36"/><text x="2688" y="3053">(0, 0, 0, 0)</text></g>
<g id="c3_add"><circle cx="2688" cy="3126" r="23"/><text x="2688" y="3131">add</text></g>
<g id="c3_b19a"><rect x="2575" y="3185" width="74" height="36"/><text x="2612" y="3208">(0, 0, 0, 0)</text></g>
<g id="c3_b19b"><rect x="2667" y="3185" width="74" height="36"/><text x="2704" y="3208">(0, 0, 0, 0)</text></g>
<g id="c3_e1a"><rect x="2585" y="3257" width="54" height="36"/></g>
<g id="c3_e1b"><rect x="2677" y="3257" width="54" height="36"/></g>
<g id="c3_ga"><circle cx="2612" cy="3366" r="37"/><text x="2612" y="3371">getitem</text></g>
<g id="c3_gb"><circle cx="2704" cy="3366" r="37"/><text x="2704" y="3371">getitem</text></g>
<g id="c3_gc"><circle cx="2795" cy="3366" r="37"/><text x="2795" y="3371">getitem</text></g>
<g id="c3_gd"><circle cx="2886" cy="3366" r="37"/><text x="2886" y="3371">getitem</text></g>
<g id="c3_e2a"><rect x="2585" y="3438" width="54" height="36"/></g>
<g id="c3_e2b"><rect x="2859" y="3438" width="54" height="36"/></g>
<g id="c3_b20a"><rect x="2773" y="3185" width="54" height="36"/><text x="2800" y="3208">(0, 0)</text></g>
<g id="c3_b20b"><rect x="2850" y="3185" width="54" height="36"/><text x="2877" y="3208">(0, 0)</text></g>
<g id="c3_e1c"><rect x="2773" y="3257" width="54" height="36"/></g>
<g id="c3_e1d"><rect x="2854" y="3257" width="54" height="36"/></g>
<g id="c3_add2"><circle cx="2821" cy="3126" r="23"/><text x="2821" y="3131">add</text></g>
<g id="c3_b21"><rect x="2794" y="3030" width="54" height="36"/><text x="2821" y="3053">(0, 0)</text></g>
<g id="c3_tr2"><circle cx="2821" cy="2951" r="38"/><text x="2821" y="2956">transpose</text></g>
<g id="c3_b22"><rect x="2794" y="2462" width="54" height="36"/><text x="2821" y="2485">(0, 0)</text></g>
<!-- standard_grid_numpy_wrap -->
<g id="s1"><circle cx="901" cy="3621" r="110"/><text x="901" y="3626">standard_grid_numpy_wrap</text></g>
<g id="s2"><circle cx="1149" cy="3621" r="110"/><text x="1149" y="3626">standard_grid_numpy_wrap</text></g>
<g id="s3"><circle cx="1636" cy="3621" r="110"/><text x="1636" y="3626">standard_grid_numpy_wrap</text></g>
<g id="s4"><circle cx="1996" cy="3621" r="110"/><text x="1996" y="3626">standard_grid_numpy_wrap</text></g>
<g id="s5"><circle cx="2569" cy="3621" r="110"/><text x="2569" y="3626">standard_grid_numpy_wrap</text></g>
<g id="s6"><circle cx="2929" cy="3621" r="110"/><text x="2929" y="3626">standard_grid_numpy_wrap</text></g>
<!-- row of empty boxes -->
<g id="r1_556"><rect x="529" y="3766" width="54" height="36"/></g>
<g id="r1_628"><rect x="601" y="3766" width="54" height="36"/></g>
<g id="r1_700"><rect x="673" y="3766" width="54" height="36"/></g>
<g id="r1_772"><rect x="745" y="3766" width="54" height="36"/></g>
<g id="r1_844"><rect x="817" y="3766" width="54" height="36"/></g>
<g id="r1_916"><rect x="889" y="3766" width="54" height="36"/></g>
<g id="r1_988"><rect x="961" y="3766" width="54" height="36"/></g>
<g id="r1_1060"><rect x="1033" y="3766" width="54" height="36"/></g>
<g id="r1_1132"><rect x="1105" y="3766" width="54" height="36"/></g>
<g id="r1_1204"><rect x="1177" y="3766" width="54" height="36"/></g>
<g id="r1_1276"><rect x="1249" y="3766" width="54" height="36"/></g>
<g id="r1_1348"><rect x="1321" y="3766" width="54" height="36"/></g>
<g id="r1_1420"><rect x="1393" y="3766" width="54" height="36"/></g>
<g id="r1_1492"><rect x="1465" y="3766" width="54" height="36"/></g>
<g id="r1_1564"><rect x="1537" y="3766" width="54" height="36"/></g>
<g id="r1_1636"><rect x="1609" y="3766" width="54" height="36"/></g>
<g id="r1_1708"><rect x="1681" y="3766" width="54" height="36"/></g>
<g id="r1_1780"><rect x="1753" y="3766" width="54" height="36"/></g>
<g id="r1_1852"><rect x="1825" y="3766" width="54" height="36"/></g>
<g id="r1_1924"><rect x="1897" y="3766" width="54" height="36"/></g>
<g id="r1_1996"><rect x="1969" y="3766" width="54" height="36"/></g>
<g id="r1_2068"><rect x="2041" y="3766" width="54" height="36"/></g>
<g id="r1_2208"><rect x="2181" y="3766" width="54" height="36"/></g>
<g id="r1_2281"><rect x="2254" y="3766" width="54" height="36"/></g>
<g id="r1_2353"><rect x="2326" y="3766" width="54" height="36"/></g>
<g id="r1_2425"><rect x="2398" y="3766" width="54" height="36"/></g>
<g id="r1_2497"><rect x="2470" y="3766" width="54" height="36"/></g>
<g id="r1_2569"><rect x="2542" y="3766" width="54" height="36"/></g>
<g id="r1_2641"><rect x="2614" y="3766" width="54" height="36"/></g>
<g id="r1_2713"><rect x="2686" y="3766" width="54" height="36"/></g>
<g id="r1_2785"><rect x="2758" y="3766" width="54" height="36"/></g>
<g id="r1_2857"><rect x="2830" y="3766" width="54" height="36"/></g>
<g id="r1_2929"><rect x="2902" y="3766" width="54" height="36"/></g>
<g id="r1_3001"><rect x="2974" y="3766" width="54" height="36"/></g>
<g id="r1_3073"><rect x="3046" y="3766" width="54" height="36"/></g>
<g id="r1_3145"><rect x="3118" y="3766" width="54" height="36"/></g>
<!-- finalize / dict row -->
<g id="f564"><circle cx="564" cy="3874" r="36"/><text x="564" y="3879">finalize</text></g>
<g id="d652"><circle cx="652" cy="3874" r="23"/><text x="652" y="3879">dict</text></g>
<g id="d724"><circle cx="724" cy="3874" r="23"/><text x="724" y="3879">dict</text></g>
<g id="f816"><circle cx="816" cy="3874" r="36"/><text x="816" y="3879">finalize</text></g>
<g id="f907"><circle cx="907" cy="3874" r="36"/><text x="907" y="3879">finalize</text></g>
<g id="f997"><circle cx="997" cy="3874" r="36"/><text x="997" y="3879">finalize</text></g>
<g id="f1087"><circle cx="1087" cy="3874" r="36"/><text x="1087" y="3879">finalize</text></g>
<g id="f1177"><circle cx="1177" cy="3874" r="36"/><text x="1177" y="3879">finalize</text></g>
<g id="f1266"><circle cx="1266" cy="3874" r="36"/><text x="1266" y="3879">finalize</text></g>
<g id="d1345"><circle cx="1345" cy="3874" r="23"/><text x="1345" y="3879">dict</text></g>
<g id="d1410"><circle cx="1410" cy="3874" r="23"/><text x="1410" y="3879">dict</text></g>
<g id="f1488"><circle cx="1488" cy="3874" r="36"/><text x="1488" y="3879">finalize</text></g>
<g id="f1578"><circle cx="1578" cy="3874" r="36"/><text x="1578" y="3879">finalize</text></g>
<g id="f1668"><circle cx="1668" cy="3874" r="36"/><text x="1668" y="3879">finalize</text></g>
<g id="f1757"><circle cx="1757" cy="3874" r="36"/><text x="1757" y="3879">finalize</text></g>
<g id="f1847"><circle cx="1847" cy="3874" r="36"/><text x="1847" y="3879">finalize</text></g>
<g id="f1937"><circle cx="1937" cy="3874" r="36"/><text x="1937" y="3879">finalize</text></g>
<g id="f2027"><circle cx="2027" cy="3874" r="36"/><text x="2027" y="3879">finalize</text></g>
<g id="f2117"><circle cx="2117" cy="3874" r="36"/><text x="2117" y="3879">finalize</text></g>
<g id="f2207"><circle cx="2207" cy="3874" r="36"/><text x="2207" y="3879">finalize</text></g>
<g id="f2297"><circle cx="2297" cy="3874" r="36"/><text x="2297" y="3879">finalize</text></g>
<g id="f2387"><circle cx="2387" cy="3874" r="36"/><text x="2387" y="3879">finalize</text></g>
<g id="f2477"><circle cx="2477" cy="3874" r="36"/><text x="2477" y="3879">finalize</text></g>
<g id="f2567"><circle cx="2567" cy="3874" r="36"/><text x="2567" y="3879">finalize</text></g>
<g id="f2658"><circle cx="2658" cy="3874" r="36"/><text x="2658" y="3879">finalize</text></g>
<g id="f2748"><circle cx="2748" cy="3874" r="36"/><text x="2748" y="3879">finalize</text></g>
<g id="f2838"><circle cx="2838" cy="3874" r="36"/><text x="2838" y="3879">finalize</text></g>
<g id="d2918"><circle cx="2918" cy="3874" r="23"/><text x="2918" y="3879">dict</text></g>
<g id="d2991"><circle cx="2991" cy="3874" r="23"/><text x="2991" y="3879">dict</text></g>
<g id="f3073"><circle cx="3073" cy="3874" r="36"/><text x="3073" y="3879">finalize</text></g>
<!-- row 3 -->
<g id="r3_568"><rect x="531" y="3946" width="74" height="36"/><text x="568" y="3969">(0, 0, 0, 0)</text></g>
<g id="r3_652"><rect x="625" y="3946" width="54" height="36"/></g>
<g id="r3_724"><rect x="697" y="3946" width="54" height="36"/></g>
<g id="r3_807"><rect x="770" y="3946" width="74" height="36"/><text x="807" y="3969">(0, 0, 0, 0)</text></g>
<g id="r3_1088"><rect x="1051" y="3946" width="74" height="36"/><text x="1088" y="3969">(0, 0, 0, 0)</text></g>
<g id="r3_1182"><rect x="1145" y="3946" width="74" height="36"/><text x="1182" y="3969">(0, 0, 0, 0)</text></g>
<g id="r3_1268"><rect x="1241" y="3946" width="54" height="36"/><text x="1268" y="3969">0</text></g>
<g id="r3_1343"><rect x="1316" y="3946" width="54" height="36"/></g>
<g id="r3_1415"><rect x="1388" y="3946" width="54" height="36"/></g>
<g id="r3_1537"><rect x="1500" y="3946" width="74" height="36"/><text x="1537" y="3969">(0, 0, 0, 0)</text></g>
<g id="r3_1851"><rect x="1814" y="3946" width="74" height="36"/><text x="1851" y="3969">(0, 0, 0, 0)</text></g>
<g id="r3_2225"><rect x="2198" y="3946" width="54" height="36"/><text x="2225" y="3969">0</text></g>
<g id="r3_2523"><rect x="2492.5" y="3946" width="61" height="36"/><text x="2523" y="3969">(0, 0, 0)</text></g>
<g id="r3_2837"><rect x="2800" y="3946" width="74" height="36"/><text x="2837" y="3969">(0, 0, 0, 0)</text></g>
<g id="r3_2919"><rect x="2892" y="3946" width="54" height="36"/></g>
<g id="r3_2991"><rect x="2964" y="3946" width="54" height="36"/></g>
<g id="r3_3073"><rect x="3036" y="3946" width="74" height="36"/><text x="3073" y="3969">(0, 0, 0, 0)</text></g>
<!-- row 4 -->
<g id="r4_41"><rect x="4" y="4018" width="74" height="36"/><text x="41" y="4041">(0, 0, 0, 0)</text></g>
<g id="r4_133"><rect x="96" y="4018" width="74" height="36"/><text x="133" y="4041">(0, 0, 0, 0)</text></g>
<g id="r4_225"><rect x="188" y="4018" width="74" height="36"/><text x="225" y="4041">(0, 0, 0, 0)</text></g>
<g id="r4_307"><rect x="280" y="4018" width="54" height="36"/><text x="307" y="4041">(0, 0)</text></g>
<g id="r4_379"><rect x="352" y="4018" width="54" height="36"/><text x="379" y="4041">(0, 0)</text></g>
<g id="r4_451"><rect x="424" y="4018" width="54" height="36"/><text x="451" y="4041">(0, 0)</text></g>
<g id="r4_523"><rect x="496" y="4018" width="54" height="36"/><text x="523" y="4041">0</text></g>
<g id="r4_605"><rect x="568" y="4018" width="74" height="36"/><text x="605" y="4041">(0, 0, 0, 0)</text></g>
<g id="r4_734"><rect x="697" y="4018" width="74" height="36"/><text x="734" y="4041">(0, 0, 1, 0)</text></g>
<g id="r4_1110"><rect x="1073" y="4018" width="74" height="36"/><text x="1110" y="4041">(0, 0, 0, 0)</text></g>
<g id="r4_1203"><rect x="1166" y="4018" width="74" height="36"/><text x="1203" y="4041">(0, 0, 0, 0)</text></g>
<g id="r4_1385"><rect x="1348" y="4018" width="74" height="36"/><text x="1385" y="4041">(0, 0, 1, 0)</text></g>
<g id="r4_1552"><rect x="1525" y="4018" width="54" height="36"/><text x="1552" y="4041">0</text></g>
<g id="r4_1677"><rect x="1640" y="4018" width="74" height="36"/><text x="1677" y="4041">(0, 0, 1, 0)</text></g>
<g id="r4_1955"><rect x="1928" y="4018" width="54" height="36"/><text x="1955" y="4041">1</text></g>
<g id="r4_2523"><rect x="2492.5" y="4018" width="61" height="36"/><text x="2523" y="4041">(0, 0, 0)</text></g>
<g id="r4_2873"><rect x="2836" y="4018" width="74" height="36"/><text x="2873" y="4041">(0, 0, 1, 0)</text></g>
<g id="r4_3037"><rect x="3000" y="4018" width="74" height="36"/><text x="3037" y="4041">(0, 0, 0, 0)</text></g>
<!-- row 5 zarr/array -->
<g id="z41"><circle cx="41" cy="4119" r="24"/><text x="41" y="4124">zarr</text></g>
<g id="z133"><circle cx="133" cy="4119" r="24"/><text x="133" y="4124">zarr</text></g>
<g id="z225"><circle cx="225" cy="4119" r="24"/><text x="225" y="4124">zarr</text></g>
<g id="z307"><circle cx="307" cy="4119" r="24"/><text x="307" y="4124">zarr</text></g>
<g id="z379"><circle cx="379" cy="4119" r="24"/><text x="379" y="4124">zarr</text></g>
<g id="z451"><circle cx="451" cy="4119" r="24"/><text x="451" y="4124">zarr</text></g>
<g id="z523"><circle cx="523" cy="4119" r="24"/><text x="523" y="4124">zarr</text></g>
<g id="z621"><circle cx="621" cy="4119" r="24"/><text x="621" y="4124">zarr</text></g>
<g id="z703"><circle cx="703" cy="4119" r="24"/><text x="703" y="4124">zarr</text></g>
<g id="z1150"><circle cx="1150" cy="4119" r="24"/><text x="1150" y="4124">zarr</text></g>
<g id="z1345"><circle cx="1345" cy="4119" r="24"/><text x="1345" y="4124">zarr</text></g>
<g id="z1475"><circle cx="1475" cy="4119" r="24"/><text x="1475" y="4124">zarr</text></g>
<g id="a1565"><circle cx="1565" cy="4119" r="27"/><text x="1565" y="4124">array</text></g>
<g id="z1650"><circle cx="1650" cy="4119" r="24"/><text x="1650" y="4124">zarr</text></g>
<g id="a1801"><circle cx="1801" cy="4119" r="27"/><text x="1801" y="4124">array</text></g>
<g id="z2522"><circle cx="2522" cy="4119" r="24"/><text x="2522" y="4124">zarr</text></g>
<g id="z2897"><circle cx="2897" cy="4119" r="24"/><text x="2897" y="4124">zarr</text></g>
<g id="z3012"><circle cx="3012" cy="4119" r="24"/><text x="3012" y="4124">zarr</text></g>
<!-- row 6 bottom boxes -->
<g id="r6_41"><rect x="14" y="4183" width="54" height="36"/></g>
<g id="r6_133"><rect x="106" y="4183" width="54" height="36"/></g>
<g id="r6_225"><rect x="198" y="4183" width="54" height="36"/></g>
<g id="r6_307"><rect x="280" y="4183" width="54" height="36"/></g>
<g id="r6_379"><rect x="352" y="4183" width="54" height="36"/></g>
<g id="r6_451"><rect x="424" y="4183" width="54" height="36"/></g>
<g id="r6_523"><rect x="496" y="4183" width="54" height="36"/></g>
<g id="r6_639"><rect x="612" y="4183" width="54" height="36"/></g>
<g id="r6_1247"><rect x="1220" y="4183" width="54" height="36"/></g>
<g id="r6_1563"><rect x="1536" y="4183" width="54" height="36"/></g>
<g id="r6_1728"><rect x="1701" y="4183" width="54" height="36"/></g>
<g id="r6_2523"><rect x="2496" y="4183" width="54" height="36"/></g>
<g id="r6_2954"><rect x="2927" y="4183" width="54" height="36"/></g>
<g id="r6_3026"><rect x="2999" y="4183" width="54" height="36"/></g>
<g id="r6_3098"><rect x="3071" y="4183" width="54" height="36"/></g>
<g id="r6_3170"><rect x="3143" y="4183" width="54" height="36"/></g>
<g id="r6_3242"><rect x="3215" y="4183" width="54" height="36"/></g>
<g id="r6_3314"><rect x="3287" y="4183" width="54" height="36"/></g>
<g id="r6_3386"><rect x="3359" y="4183" width="54" height="36"/></g>
</g>
</g>
</svg>
